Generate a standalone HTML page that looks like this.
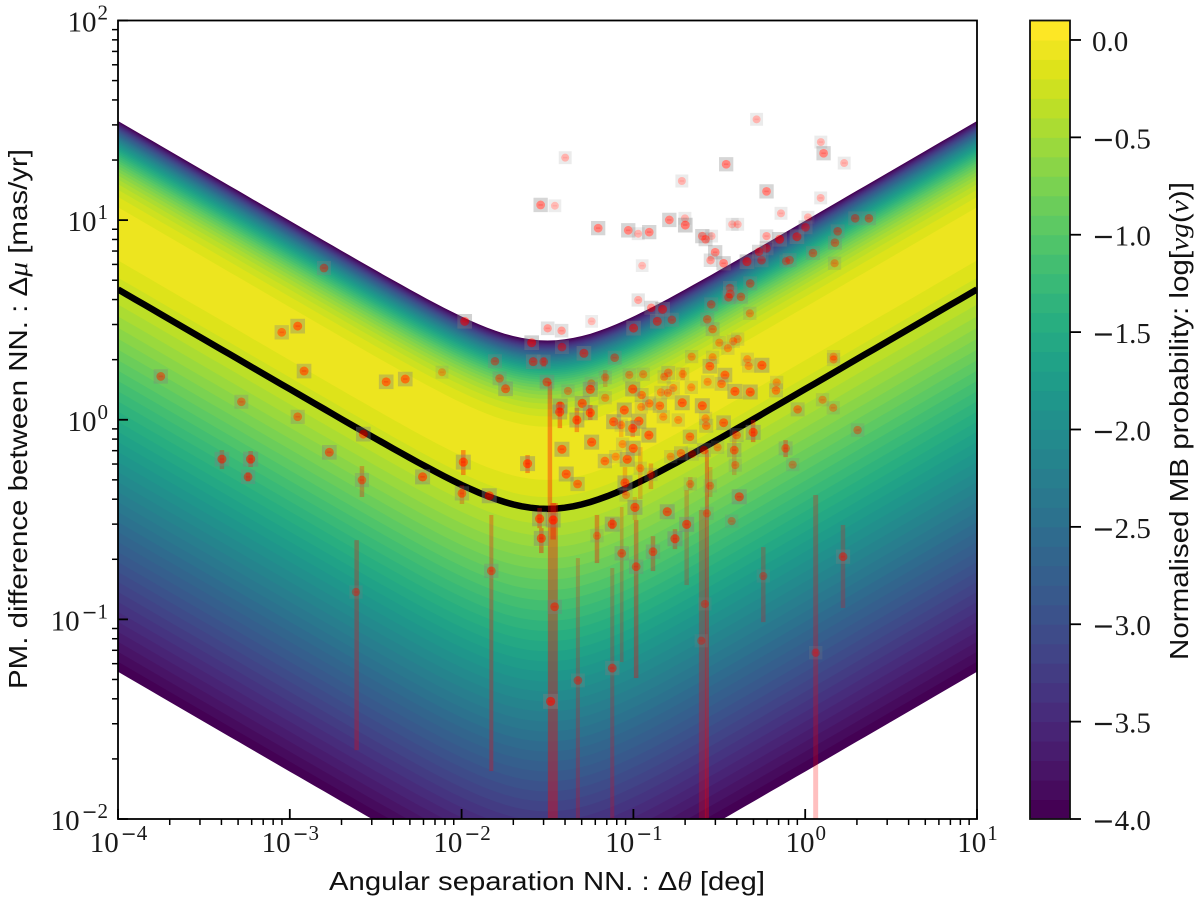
<!DOCTYPE html>
<html lang="en">
<head>
<meta charset="utf-8">
<title>PM difference vs angular separation</title>
<style>
html,body{margin:0;padding:0;background:#fff;}
svg{display:block;}
.tick-label{font-family:"Liberation Serif",serif;font-size:29px;fill:#1a1a1a;}
.axis-title{font-family:"Liberation Sans",sans-serif;font-size:26px;fill:#111;}
.math{font-family:"Liberation Serif",serif;font-style:italic;}
.minus{font-family:"DejaVu Sans",sans-serif;}
</style>
</head>
<body>
<svg id="chart" width="1200" height="904" viewBox="0 0 1200 904" xmlns="http://www.w3.org/2000/svg">
  <defs>
    <clipPath id="plot-clip"><rect x="118" y="20.5" width="859" height="799"/></clipPath>
  </defs>
  <g id="contours" clip-path="url(#plot-clip)"></g>
  <g id="ridge" clip-path="url(#plot-clip)"></g>
  <g id="bars" clip-path="url(#plot-clip)"></g>
  <g id="points" clip-path="url(#plot-clip)"></g>
  <g id="axes"></g>
  <g id="colorbar"></g>
  <text class="axis-title" x="547" y="890" text-anchor="middle" textLength="436" lengthAdjust="spacingAndGlyphs">Angular separation NN. : Δ<tspan class="math">θ</tspan> [deg]</text>
  <text class="axis-title" transform="translate(27,419) rotate(-90)" text-anchor="middle" textLength="540" lengthAdjust="spacingAndGlyphs">PM. difference between NN. : Δ<tspan class="math">μ</tspan> [mas/yr]</text>
  <text class="axis-title" transform="translate(1188,421) rotate(-90)" text-anchor="middle" textLength="478" lengthAdjust="spacingAndGlyphs">Normalised MB probability: log[<tspan class="math">vg</tspan>(<tspan class="math">v</tspan>)]</text>
</svg>
<script>
// Contour levels of the normalised probability
const levels = [-4.0,-3.9,-3.8,-3.7,-3.6,-3.5,-3.4,-3.3,-3.2,-3.1,-3.0,-2.9,-2.8,-2.7,-2.6,-2.5,-2.4,-2.3,-2.2,-2.1,-2.0,-1.9,-1.8,-1.7,-1.6,-1.5,-1.4,-1.3,-1.2,-1.1,-1.0,-0.9,-0.8,-0.7,-0.6,-0.5,-0.4,-0.3,-0.2,-0.1,0.0,0.1];
// Surface parameters
const surfacePivotLog = -1.5;
const surfaceMode = 0.495;
const surfacePeak = -0.02;
const ridgeVelocity = 0.253;
// Axis ticks
const xTickExponents = [-4,-3,-2,-1,0,1];
const yTickExponents = [-2,-1,0,1,2];
const colorbarTicks = [0.0,-0.5,-1.0,-1.5,-2.0,-2.5,-3.0,-3.5,-4.0];
const minorMultiples = [2,3,4,5,6,7,8,9];
const viridisAnchors = ['#440154','#481567','#482677','#453781','#404788','#39568c','#33638d','#2d708e','#287d8e','#238a8d','#1f968b','#20a387','#29af7f','#3cbb75','#55c667','#73d055','#95d840','#b8de29','#dce319','#fde725'];

// Markers: log10(separation/deg), log10(PM difference/(mas/yr)), weight
const sepLog = [-0.283,0.091,0.107,0.227,-0.460,-1.397,-0.718,-0.225,0.090,-0.141,-1.540,-1.457,0.016,-1.205,-1.030,-0.972,-0.908,-0.791,-0.700,-0.698,-0.425,-0.393,-0.599,-0.545,-0.580,-0.225,-0.149,-0.048,0.002,0.291,0.371,0.189,0.173,0.045,-0.091,-0.112,0.171,-0.524,-0.551,-0.475,-0.339,-0.254,-0.225,-0.269,-0.949,-0.972,-0.896,-0.830,-0.776,-0.861,-0.999,-1.243,-1.499,-1.418,-1.982,-1.592,-1.416,-1.288,-1.109,-1.806,-1.583,-1.522,-1.779,-1.744,-2.114,-1.503,-0.438,-0.436,-0.446,-0.374,-0.320,-0.547,-0.570,-0.539,-0.322,-0.500,-0.393,-0.419,-0.450,-0.661,-0.539,-0.555,-0.337,-0.329,-0.252,0.165,0.165,-0.467,-0.568,-0.487,-0.409,-0.320,-0.166,-0.170,-0.044,0.101,0.163,0.305,-0.303,-0.399,-0.475,-0.599,-0.576,-0.580,-0.716,-0.739,-0.663,-0.797,-0.713,-0.821,-0.768,-0.840,-0.799,-0.846,-0.826,-0.908,-0.954,-0.952,-1.004,-1.024,-0.943,-1.164,-1.245,-1.251,-1.381,-1.164,-1.298,-1.426,-1.429,-1.251,-1.329,-1.053,-1.115,-0.968,-1.004,-1.071,-0.910,-1.243,-1.990,-1.998,-1.839,-1.616,-1.546,-1.536,-1.467,-1.458,-1.482,-1.416,-1.391,-1.325,-1.166,-1.103,-1.036,-1.063,-1.001,-0.960,-1.049,-1.043,-0.991,-0.898,-0.783,-0.723,-0.658,-0.589,-0.671,-0.413,-0.407,-0.510,-0.114,-0.073,-0.384,-0.669,-0.553,-0.572,-0.428,-0.803,-0.690,-1.123,-1.212,-0.758,-0.886,-0.984,-1.068,-1.827,-0.244,0.220,-0.584,-0.605,-1.123,-1.323,0.061,-2.615,-3.751,-3.282,-2.954,-3.047,-2.954,-2.917,-2.439,-2.328,-2.572,-2.770,-3.395,-3.228,-3.243,-2.580,-2.227,-2.801];
const pmLog = [1.505,1.391,1.335,1.286,1.280,1.313,1.196,1.144,1.111,1.034,1.076,1.072,1.014,0.960,0.949,0.932,0.940,1.001,1.009,0.975,0.979,0.979,0.920,0.920,0.904,0.920,0.904,0.917,0.964,1.009,1.009,0.944,0.887,0.835,0.800,0.794,0.784,0.839,0.799,0.784,0.792,0.799,0.859,0.842,0.772,0.600,0.561,0.553,0.501,0.493,0.459,0.493,0.458,0.446,0.493,0.386,0.364,0.333,0.311,0.293,0.291,0.291,0.207,0.155,0.238,0.189,0.660,0.630,0.613,0.616,0.683,0.578,0.503,0.454,0.533,0.386,0.404,0.393,0.358,0.316,0.313,0.268,0.303,0.269,0.273,0.316,0.302,0.224,0.190,0.180,0.142,0.139,0.187,0.147,0.052,0.100,0.060,-0.052,-0.063,-0.077,-0.015,0.070,-0.030,0.007,0.085,-0.001,0.162,0.235,0.229,0.215,0.159,0.137,0.135,0.070,0.015,0.082,0.064,0.124,0.154,0.225,0.228,0.212,0.182,0.152,0.144,0.110,0.082,0.069,0.039,0.035,-0.001,0.049,-0.010,-0.007,-0.043,-0.027,-0.077,-0.112,-0.212,-0.369,-0.381,-0.220,-0.496,-0.594,-0.502,-0.937,-1.411,-0.148,-0.272,-0.322,-0.207,-0.185,-0.198,-0.122,-0.143,-0.243,-0.316,-0.377,-0.439,-0.274,-0.185,-0.168,-0.172,-0.152,-0.085,-0.152,-0.227,-0.138,-0.143,-0.225,-0.386,-0.322,-0.331,-0.469,-0.508,-0.461,-0.524,-0.523,-0.581,-0.596,-0.661,-0.736,-0.669,-0.757,-0.783,-0.686,-0.923,-1.107,-1.244,-1.306,-1.167,-0.863,0.217,0.090,0.015,0.438,0.469,0.244,0.190,0.204,-0.072,-0.163,-0.197,-0.197,-0.286,-0.302,-0.286,0.760];
const weight = [0.4,0.4,0.8,0.4,0.8,0.4,0.4,0.8,0.4,0.4,0.8,0.35,0.4,0.8,0.8,0.4,0.8,0.8,0.4,0.9,0.4,0.4,0.8,0.4,0.7,0.55,0.9,0.9,0.7,0.7,0.7,0.7,0.7,0.7,0.7,0.5,0.5,0.8,0.6,0.8,0.9,0.7,0.7,0.7,0.35,0.5,0.7,0.9,0.7,0.9,0.9,0.35,0.6,0.6,0.9,0.9,0.7,0.9,0.7,0.7,0.9,0.7,0.7,0.9,0.4,0.9,0.7,0.9,0.7,0.7,0.7,0.7,0.7,0.7,0.5,0.5,0.5,0.5,0.5,0.5,0.5,0.9,0.5,0.5,1,0.5,0.5,0.9,0.5,0.7,1,1,0.5,0.7,0.7,0.5,0.5,0.6,1,0.7,0.9,1,0.7,0.5,1,0.5,0.5,0.7,0.5,0.5,0.5,0.5,0.5,0.8,0.5,0.7,0.5,0.7,1,0.5,0.5,0.5,0.5,1,0.5,0.5,1,1,1,1,1,1,1,1,1,0.5,1,1,1,0.8,1,1,1,1,1,0.8,1,1,1,0.8,0.8,0.5,1,0.5,1,0.5,1,0.5,1,0.5,0.5,0.7,0.5,0.7,0.8,0.8,0.5,0.5,0.7,0.5,1,0.5,0.5,0.5,0.5,1,1,1,0.5,1,0.8,0.8,0.8,0.8,0.5,0.8,0.5,0.5,0.8,0.7,0.55,0.55,0.8,0.7,0.75,0.8,0.9,0.9,0.9,0.9,0.9,0.9,0.9,1,0.8,0.75,1,0.75,0.8,0.9,0.7];

// Error bars: log10(separation), high and low log10(PM difference), weight, brightness
const barSepLog = [-1.990,-1.998,-1.616,-1.546,-1.536,-1.486,-1.469,-1.467,-1.827,-1.212,-1.123,-0.758,-0.886,-0.984,-1.068,-0.690,-0.244,0.220,-1.123,-1.323,0.061,-0.599,-0.572,-2.611,-0.413,-0.553,-0.669,-1.049,-0.960,-0.991,-0.898,-0.303,-0.114,-3.395,-3.228,-3.243,-2.580,-1.164,-1.428,-1.251,-1.329,-1.071,-0.713,-1.004,-1.522];
const barHighLog = [-0.152,-0.327,-0.177,-0.442,-0.543,0.189,-0.417,-0.417,-0.477,-0.477,-0.492,-0.548,-0.583,-0.502,-0.437,-0.352,-0.638,-0.527,-0.743,-0.693,-0.377,-0.452,-0.152,-0.603,-0.052,-0.237,-0.287,-0.237,-0.137,-0.387,-0.219,-0.001,-0.102,-0.152,-0.157,-0.262,-0.232,0.249,0.089,0.074,0.059,-0.001,0.259,-0.001,0.314];
const barLowLog = [-0.277,-0.422,-0.267,-0.543,-0.668,-0.417,-2.6,-0.600,-1.760,-0.718,-0.548,-0.648,-0.758,-1.294,-1.214,-0.828,-1.014,-0.943,-2.6,-2.6,-2.6,-2.6,-2.6,-1.655,-0.277,-0.387,-0.352,-0.377,-0.397,-0.502,-0.347,-0.112,-0.187,-0.247,-0.237,-0.309,-0.387,0.164,-0.042,-0.001,-0.062,-0.087,0.199,-0.087,0.264];
const barWeight = [1,0.7,1,1,1,1,1,1,0.8,0.9,0.9,0.8,0.8,0.9,0.6,0.6,0.6,0.6,0.6,0.6,0.7,0.7,1,0.75,0.5,0.5,0.5,0.6,0.5,0.5,0.7,1,0.9,0.75,0.9,0.75,0.75,0.5,1,1,0.9,0.5,0.5,0.8,0.7];
const barBrightness = [1,1,1,1,1,1,2.2,1.2,0.9,1,1,1,1,1,0.8,1,1,1,0.9,0.9,1.1,1.5,0.9,1,1,1,1,1,1,1,1,1,1,1,1,1,1,1,1,1,1,1,1,1,1];

const NS = 'http://www.w3.org/2000/svg';
const plot = {left:118,right:977,top:20.5,bottom:819};
const xScale = v => plot.left + (v + 4) * (plot.right - plot.left) / 5;
const yScale = v => plot.bottom - (v + 2) * (plot.bottom - plot.top) / 4;
const cbar = {left:1030,right:1070,top:20.5,bottom:819};
const cScale = v => cbar.bottom - (v + 4) * (cbar.bottom - cbar.top) / 4.1;

function el(tag, attrs, parent){
  const e = document.createElementNS(NS, tag);
  for (const k in attrs) e.setAttribute(k, attrs[k]);
  parent.appendChild(e);
  return e;
}
function viridis(t){
  const p = Math.max(0, Math.min(1, t)) * (viridisAnchors.length - 1);
  const i = Math.min(Math.floor(p), viridisAnchors.length - 2), f = p - i;
  const a = viridisAnchors[i], b = viridisAnchors[i + 1];
  const c = [1,3,5].map(o => {
    const x = parseInt(a.substr(o,2),16), y = parseInt(b.substr(o,2),16);
    return Math.round(x + (y - x) * f);
  });
  return 'rgb(' + c.join(',') + ')';
}
function surface(u){
  const r = u / surfaceMode;
  return surfacePeak + 2 * Math.log10(r) - (r * r - 1) / Math.LN10;
}
function solve(level, lo, hi){
  const rising = surface(hi) > surface(lo);
  for (let i = 0; i < 50; i++){
    const m = Math.sqrt(lo * hi);
    if ((surface(m) > level) === rising) hi = m; else lo = m;
  }
  return Math.sqrt(lo * hi);
}
const shape = t => {
  const d = t - surfacePivotLog;
  return 0.5 * Math.log10(Math.pow(10, d) + Math.pow(10, -d));
};

// Contours
const contoursG = document.getElementById('contours');
levels.forEach((lv, i) => {
  if (i === levels.length - 1 || lv >= surfacePeak) return;
  const uLo = Math.log10(solve(lv, 1e-5, surfaceMode));
  const uHi = Math.log10(solve(lv, surfaceMode, 20));
  const upper = [], lower = [];
  for (let k = 0; k <= 100; k++){
    const t = -4 + k * 0.05;
    const s = shape(t);
    upper.push(xScale(t).toFixed(1) + ',' + yScale(uHi + s).toFixed(1));
    lower.unshift(xScale(t).toFixed(1) + ',' + yScale(uLo + s).toFixed(1));
  }
  const poly = el('polygon', {points: upper.concat(lower).join(' '), fill: viridis(i / 40)}, contoursG);
  
  
});

// Ridge line
const ridgePts = [];
for (let k = 0; k <= 100; k++){
  const t = -4 + k * 0.05;
  ridgePts.push(xScale(t).toFixed(1) + ',' + yScale(Math.log10(ridgeVelocity) + shape(t)).toFixed(1));
}
const ridge = el('polyline', {points: ridgePts.join(' '), fill: 'none', stroke: '#000', 'stroke-width': 6.5}, document.getElementById('ridge'));



// Error bars
const barsG = document.getElementById('bars');
barSepLog.forEach((s, i) => {
  const yH = yScale(barHighLog[i]), yL = yScale(barLowLog[i]);
  const w = 4.5 * barBrightness[i];
  const r = el('rect', {x: xScale(s) - w / 2, y: yH, width: w, height: yL - yH, fill: '#f00', opacity: 0.36 * barWeight[i]}, barsG);
  
  
});

// Points: grey halo square with a hole for the dot, then the translucent dot
const pointsG = document.getElementById('points');
sepLog.forEach((s, i) => {
  const cx = xScale(s), cy = yScale(pmLog[i]), w = weight[i];
  const side = 11.5 + 3.5 * w, h = side / 2, rad = 3.6 + 1.0 * w;
  const d = 'M' + (cx - h) + ' ' + (cy - h) + 'h' + side + 'v' + side + 'h' + (-side) + 'z' +
            'M' + (cx - rad) + ' ' + cy + 'a' + rad + ' ' + rad + ' 0 1 0 ' + (2 * rad) + ' 0a' + rad + ' ' + rad + ' 0 1 0 ' + (-2 * rad) + ' 0z';
  const sq = el('path', {d: d, 'fill-rule': 'evenodd', fill: '#808080', opacity: 0.4 * w}, pointsG);
  
  
  const dot = el('circle', {cx: cx, cy: cy, r: rad, fill: '#ff1000', opacity: 0.12 + 0.48 * w}, pointsG);
  
  
  const dash = el('rect', {x: cx - 2.2, y: cy - 0.8, width: 4.4, height: 1.6, fill: '#f00', opacity: 0.25 * w}, pointsG);
  
  
});

// Axes
const axesG = document.getElementById('axes');
const frame = el('rect', {x: plot.left, y: plot.top, width: plot.right - plot.left, height: plot.bottom - plot.top, fill: 'none', stroke: '#000', 'stroke-width': 1.8}, axesG);


function powerLabel(x, y, exp, anchorRight){
  const t = el('text', {x: x, y: y, 'text-anchor': anchorRight ? 'end' : 'middle', class: 'tick-label'}, axesG);
  t.appendChild(document.createTextNode('10'));
  if (exp < 0){
    const sm = el('tspan', {dy: -12, dx: 2, 'font-size': 19, class: 'minus'}, t);
    sm.textContent = '−';
    const sd = el('tspan', {'font-size': 21}, t);
    sd.textContent = String(-exp);
  } else {
    const sd = el('tspan', {dy: -12, dx: 1, 'font-size': 21}, t);
    sd.textContent = String(exp);
  }
  return t;
}
xTickExponents.forEach(e => {
  const x = xScale(e);
  const tk = el('line', {x1: x, x2: x, y1: plot.bottom, y2: plot.bottom - 10, stroke: '#000', 'stroke-width': 1.8}, axesG);
  
  
  const lb = powerLabel(x + 0.5, 852, e, false);
  
  
  if (e < 1) minorMultiples.forEach(m => {
    const mx = xScale(e + Math.log10(m));
    const mt = el('line', {x1: mx, x2: mx, y1: plot.bottom, y2: plot.bottom + 6, stroke: '#000', 'stroke-width': 1.5}, axesG);
    
    
  });
});
yTickExponents.forEach(e => {
  const y = yScale(e);
  const tk = el('line', {x1: plot.left, x2: plot.left + 10, y1: y, y2: y, stroke: '#000', 'stroke-width': 1.8}, axesG);
  
  
  const lb = powerLabel(108, y + 11, e, true);
  
  
  if (e < 2) minorMultiples.forEach(m => {
    const my = yScale(e + Math.log10(m));
    const mt = el('line', {x1: plot.left, x2: plot.left - 6, y1: my, y2: my, stroke: '#000', 'stroke-width': 1.5}, axesG);
    
    
  });
});

// Colorbar
const cbarG = document.getElementById('colorbar');
for (let i = 0; i < levels.length - 1; i++){
  const yT = cScale(levels[i + 1]), yB = cScale(levels[i]);
  const band = el('rect', {x: cbar.left, y: yT, width: cbar.right - cbar.left, height: yB - yT + 0.5, fill: viridis(i / 40)}, cbarG);
  
  
}
const cframe = el('rect', {x: cbar.left, y: cbar.top, width: cbar.right - cbar.left, height: cbar.bottom - cbar.top, fill: 'none', stroke: '#111', 'stroke-width': 1.8}, cbarG);


colorbarTicks.forEach(v => {
  const y = cScale(v);
  const tk = el('line', {x1: cbar.right, x2: cbar.right + 11, y1: y, y2: y, stroke: '#000', 'stroke-width': 1.8}, cbarG);
  
  
  const lb = el('text', {x: 1092, y: y + 11, class: 'tick-label'}, cbarG);
  if (v < 0){
    const m = el('tspan', {class: 'minus', 'font-size': 27}, lb);
    m.textContent = '−';
    const n = el('tspan', {}, lb);
    n.textContent = Math.abs(v).toFixed(1);
  } else {
    lb.textContent = Math.abs(v).toFixed(1);
  }
  
  
});
</script>
</body>
</html>
